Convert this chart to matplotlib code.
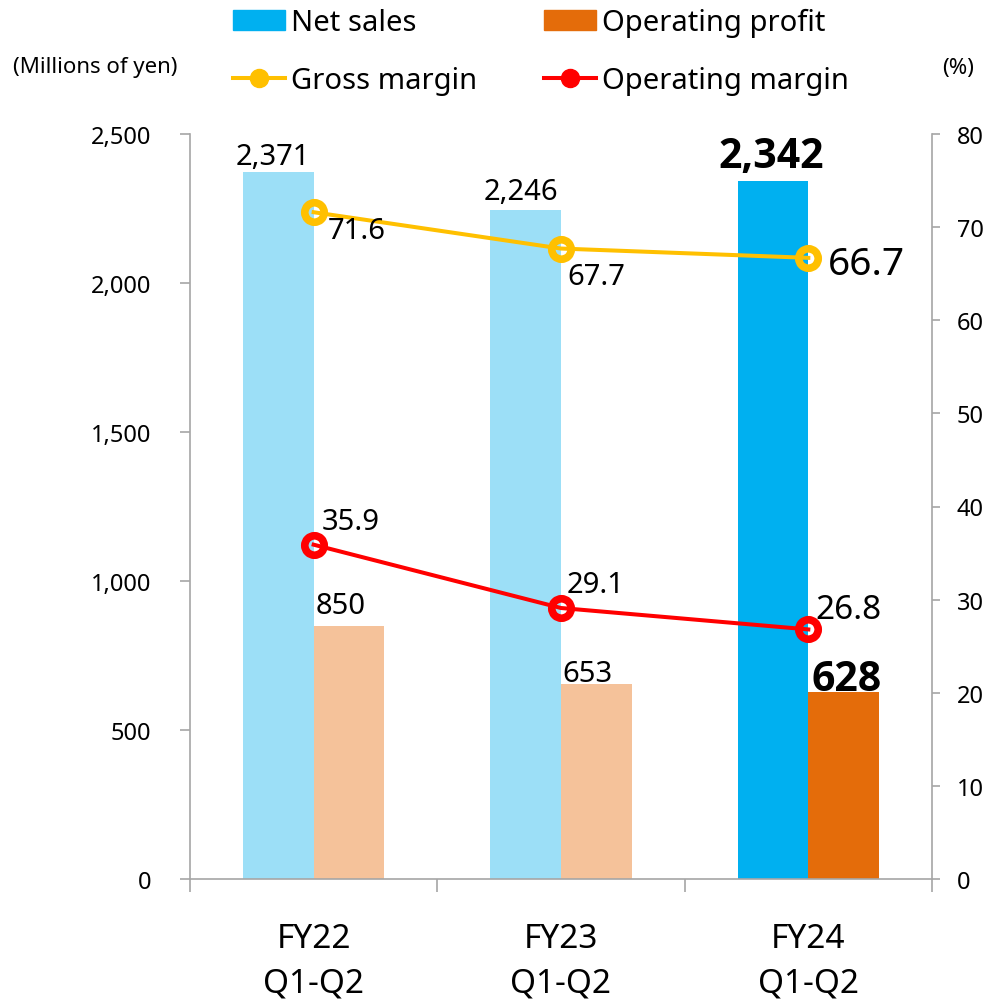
import matplotlib
matplotlib.use("Agg")
import matplotlib.pyplot as plt
from matplotlib.lines import Line2D
from matplotlib.patches import Patch
from matplotlib.ticker import FuncFormatter
import numpy as np

plt.rcParams["font.family"] = ["Noto Sans", "DejaVu Sans"]

categories = ["FY22\nQ1-Q2", "FY23\nQ1-Q2", "FY24\nQ1-Q2"]
net_sales = [2371, 2246, 2342]
operating_profit = [850, 653, 628]
gross_margin = [71.6, 67.7, 66.7]
operating_margin = [35.9, 29.1, 26.8]

COLORS = {
    "sales": "#00B0F0",
    "sales_light": "#9CDFF7",
    "profit": "#E46C0A",
    "profit_light": "#F5C29A",
    "gross": "#FFC000",
    "opm": "#FF0000",
    "axis": "#A6A6A6",
    "ink": "#000000",
}

# label nudges in pixels (Excel places these by hand)
SALES_OFFS = [(-5, 8), (-5, 11), (-2, 14)]
PROFIT_OFFS = [(-8, 13), (-9, 3), (3, 2)]
GROSS_OFFS = [(14, -26), (6, -35), (20, -16)]
OPM_OFFS = [(8, 16), (6, 16), (7, 11)]

BOLD_FAMILY = ["Open Sans", "Noto Sans", "DejaVu Sans"]

W, H, DPI = 987, 1003, 100
fig = plt.figure(figsize=(W / DPI, H / DPI), dpi=DPI)
ax = fig.add_axes([190 / W, 1 - 880 / H, (932 - 190) / W, (880 - 135) / H])
ax2 = ax.twinx()

x = np.arange(len(categories))
bw = 0.286
last = len(categories) - 1
sales_cols = [COLORS["sales"] if i == last else COLORS["sales_light"] for i in x]
profit_cols = [COLORS["profit"] if i == last else COLORS["profit_light"] for i in x]

ax.bar(x - bw / 2, net_sales, bw, color=sales_cols, zorder=2)
ax.bar(x + bw / 2, operating_profit, bw, color=profit_cols, zorder=2)

ax.set_xlim(-0.5, 2.5)
ax.set_ylim(0, 2500)
ax.set_yticks(np.arange(0, 2501, 500))
ax.yaxis.set_major_formatter(FuncFormatter(lambda v, p: f"{int(v):,}"))
ax.set_xticks(x)
ax.set_xticklabels(categories)
ax.set_xticks([-0.5, 0.5, 1.5, 2.5], minor=True)
ax.tick_params(axis="x", which="major", length=0, pad=31, labelsize=24, labelcolor=COLORS["ink"])
ax.tick_params(axis="x", which="minor", length=9.5, width=1.2, color=COLORS["axis"], direction="out")
ax.tick_params(axis="y", length=7, width=1.2, color=COLORS["axis"], pad=21, labelsize=17, labelcolor=COLORS["ink"])
for lab in ax.get_xticklabels():
    lab.set_linespacing(1.45)

for s in ["top", "right"]:
    ax.spines[s].set_visible(False)
for s in ["left", "bottom"]:
    ax.spines[s].set_color(COLORS["axis"])
    ax.spines[s].set_linewidth(1.2)

ax2.plot(x, gross_margin, color=COLORS["gross"], lw=2.9, marker="o", ms=14,
         mfc="none", mec=COLORS["gross"], mew=5.5, zorder=3)
ax2.plot(x, operating_margin, color=COLORS["opm"], lw=2.9, marker="o", ms=14,
         mfc="none", mec=COLORS["opm"], mew=5.5, zorder=3)
ax2.set_ylim(0, 80)
ax2.set_yticks(np.arange(0, 81, 10))
ax2.tick_params(axis="y", length=6, width=1.2, color=COLORS["axis"], pad=12, labelsize=17, labelcolor=COLORS["ink"])
for s in ["top", "left", "bottom"]:
    ax2.spines[s].set_visible(False)
ax2.spines["right"].set_color(COLORS["axis"])
ax2.spines["right"].set_linewidth(1.2)

# data labels, the latest period is emphasised
for i in x:
    hi = i == last
    bar_kw = dict(fontsize=29.5, fontweight="bold", family=BOLD_FAMILY) if hi else dict(fontsize=21)
    ax2.annotate(f"{net_sales[i]:,}", xy=(i - bw / 2, net_sales[i] / 2500 * 80),
                 xytext=SALES_OFFS[i], textcoords="offset pixels", ha="center", va="baseline",
                 color=COLORS["ink"], **bar_kw)
    ax2.annotate(f"{operating_profit[i]:,}", xy=(i + bw / 2, operating_profit[i] / 2500 * 80),
                 xytext=PROFIT_OFFS[i], textcoords="offset pixels", ha="center", va="baseline",
                 color=COLORS["ink"], **bar_kw)
    ax2.annotate(f"{gross_margin[i]:.1f}", xy=(i, gross_margin[i]),
                 xytext=GROSS_OFFS[i], textcoords="offset pixels", ha="left", va="baseline",
                 fontsize=28 if hi else 21, color=COLORS["ink"])
    ax2.annotate(f"{operating_margin[i]:.1f}", xy=(i, operating_margin[i]),
                 xytext=OPM_OFFS[i], textcoords="offset pixels", ha="left", va="baseline",
                 fontsize=24 if hi else 21, color=COLORS["ink"])

# axis unit captions
fig.text(13 / W, 1 - 73 / H, "(Millions of yen)", ha="left", va="baseline", fontsize=16, color=COLORS["ink"])
fig.text(942 / W, 1 - 74 / H, "(%)", ha="left", va="baseline", fontsize=16, color=COLORS["ink"])

handles = [
    Patch(color=COLORS["sales"]),
    Line2D([], [], color=COLORS["gross"], lw=2.9, marker="o", ms=13, mec=COLORS["gross"]),
    Patch(color=COLORS["profit"]),
    Line2D([], [], color=COLORS["opm"], lw=2.9, marker="o", ms=13, mec=COLORS["opm"]),
]
labels = ["Net sales", "Gross margin", "Operating profit", "Operating margin"]
fig.legend(handles, labels, ncol=2, loc="upper left", bbox_to_anchor=(233 / W, 1 - 9 / H),
           frameon=False, fontsize=21, handlelength=1.78, handleheight=0.68,
           handletextpad=0.2, columnspacing=2.3, labelspacing=0.98, borderpad=0, borderaxespad=0)

fig.savefig("out.png", dpi=DPI, facecolor="white")
